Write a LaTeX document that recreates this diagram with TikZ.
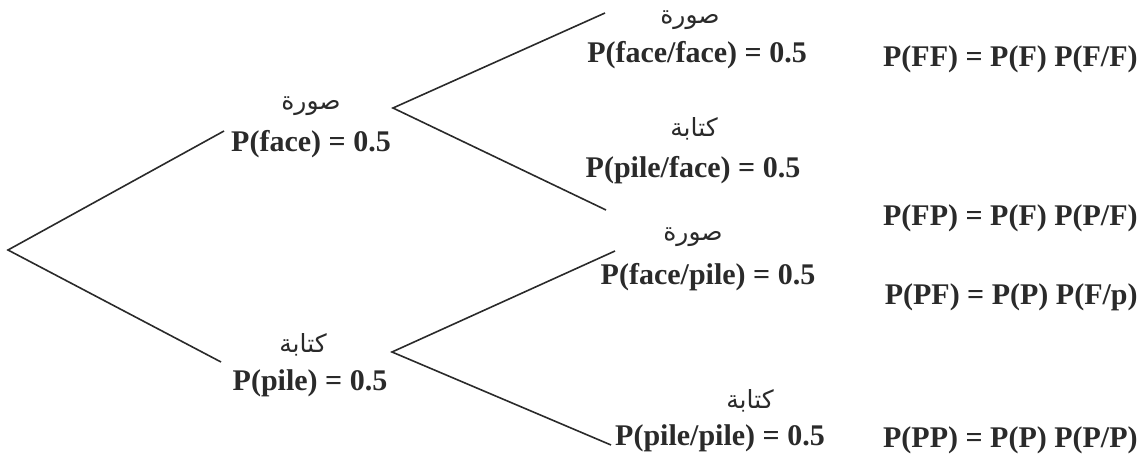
\documentclass[tikz,border=0pt]{standalone}
\usepackage{fontspec}
\setmainfont{Liberation Serif}
\newfontfamily\arabicfont[Script=Arabic]{DejaVu Sans}
\TeXXeTstate=1
\definecolor{ink}{HTML}{2A2A2A}
\begin{document}
\begin{tikzpicture}[x=0.5pt,y=-0.5pt,
  lbl/.style={font=\fontsize{15}{18}\selectfont\bfseries, text=ink, inner sep=0pt, anchor=base},
  res/.style={font=\fontsize{15}{18}\selectfont\bfseries, text=ink, inner sep=0pt, anchor=base east},
  ar/.style={font=\fontsize{12.5}{14}\selectfont\arabicfont, text=ink, inner sep=0pt, anchor=center},
  branch/.style={draw=ink, line width=0.8pt}]
\useasboundingbox (0,0) rectangle (1142,465);
% points of the tree
\coordinate (root) at (8,250);
\coordinate (rootF) at (224,131);
\coordinate (rootP) at (221,362);
\coordinate (fa) at (393,108);
\coordinate (faF) at (605,13);
\coordinate (faP) at (606,210);
\coordinate (pa) at (392,352);
\coordinate (paF) at (615,251);
\coordinate (paP) at (611,445);
% branches
\draw[branch] (rootF) -- (root) -- (rootP);
\draw[branch] (faF) -- (fa) -- (faP);
\draw[branch] (paF) -- (pa) -- (paP);
% first level labels
\node[ar] (arF) at (311,106) {\beginR صورة\endR};
\node[lbl] (pF) at (311,152) {P(face) = 0.5};
\node[ar] (arP) at (303,345) {\beginR كتابة\endR};
\node[lbl] (pP) at (310,390) {P(pile) = 0.5};
% second level labels
\node[ar] (arFF) at (690,20) {\beginR صورة\endR};
\node[lbl] (pFF) at (697,63) {P(face/face) = 0.5};
\node[ar] (arFP) at (694,129) {\beginR كتابة\endR};
\node[lbl] (pFP) at (693,178) {P(pile/face) = 0.5};
\node[ar] (arPF) at (693,237) {\beginR صورة\endR};
\node[lbl] (pPF) at (708,285) {P(face/pile) = 0.5};
\node[ar] (arPP) at (750,401) {\beginR كتابة\endR};
\node[lbl] (pPP) at (720,445) {P(pile/pile) = 0.5};
% results
\node[res] (rFF) at (1138,67) {P(FF) = P(F) P(F/F)};
\node[res] (rFP) at (1138,226) {P(FP) = P(F) P(P/F)};
\node[res] (rPF) at (1138,305) {P(PF) = P(P) P(F/p)};
\node[res] (rPP) at (1138,447) {P(PP) = P(P) P(P/P)};
\end{tikzpicture}
\end{document}
